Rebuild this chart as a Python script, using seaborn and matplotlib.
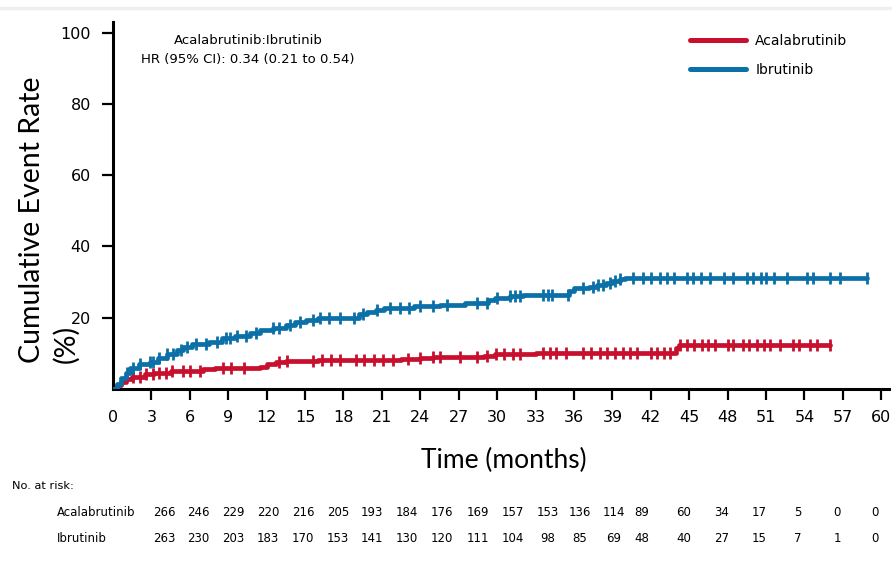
import matplotlib
matplotlib.use("Agg")

import matplotlib.pyplot as plt
import numpy as np
import pandas as pd
import seaborn as sns
from matplotlib.lines import Line2D


# Kaplan-Meier style cumulative event curves (step times in months, value in %)
ACALA_STEP_TIMES = [0, 0.3, 0.6, 1.0, 1.5, 2.5, 3.2, 4.5, 7.0, 8.0, 11.5, 12.0,
                    12.7, 13.5, 16.0, 22.5, 24.0, 25.0, 29.0, 29.8, 33.0, 44.0,
                    44.2]
ACALA_STEP_RATES = [0, 1.0, 2.0, 2.9, 3.4, 4.1, 4.5, 5.1, 5.5, 5.8, 6.3, 7.0,
                    7.5, 7.9, 8.1, 8.5, 8.8, 9.0, 9.4, 9.7, 10.1, 11.5, 12.4]
ACALA_CENSOR_TIMES = [1.6, 2.1, 2.6, 3.1, 3.6, 4.1, 4.6, 5.5, 6.0, 6.8, 8.6,
                      9.2, 10.2, 13.0, 13.6, 15.6, 16.3, 17.0, 17.7, 19.0, 19.6,
                      20.4, 21.1, 21.9, 23.0, 24.0, 25.0, 25.5, 27.1, 28.4,
                      29.2, 29.9, 30.5, 31.2, 31.8, 33.6, 34.1, 34.6, 35.4,
                      36.7, 37.3, 38.0, 38.6, 39.2, 39.8, 40.4, 40.9, 42.0,
                      42.5, 43.0, 43.5, 44.3, 44.8, 45.4, 46.0, 46.5, 47.0,
                      48.0, 48.4, 49.2, 49.7, 50.3, 50.8, 51.3, 52.1, 53.1,
                      53.6, 54.4, 55.0, 56.0]

IBRU_STEP_TIMES = [0, 0.3, 0.6, 1.0, 1.3, 2.0, 2.9, 3.5, 4.2, 5.0, 5.5, 6.2,
                   7.5, 8.5, 9.5, 10.7, 11.5, 12.5, 13.5, 14.2, 15.1, 16.0,
                   19.2, 19.8, 20.5, 21.2, 23.5, 25.5, 27.5, 29.3, 29.8, 31.0,
                   32.0, 35.6, 36.0, 37.2, 37.8, 38.5, 39.0, 39.6, 40.0]
IBRU_STEP_RATES = [0, 1.5, 3.0, 4.5, 6.0, 7.0, 7.6, 8.7, 9.8, 10.9, 11.8, 12.5,
                   13.3, 14.4, 15.0, 15.7, 16.5, 17.1, 18.0, 18.8, 19.4, 20.0,
                   21.0, 21.6, 22.3, 22.8, 23.2, 23.6, 24.2, 25.0, 25.6, 26.2,
                   26.4, 27.6, 28.3, 28.7, 29.2, 29.8, 30.3, 30.8, 31.1]
IBRU_CENSOR_TIMES = [1.1, 1.6, 2.1, 2.9, 3.1, 3.6, 4.2, 4.7, 5.3, 5.8, 6.5,
                     7.3, 8.1, 8.8, 9.1, 9.7, 10.4, 11.2, 12.5, 13.0, 13.8,
                     14.6, 15.6, 16.2, 16.9, 17.7, 18.8, 19.5, 20.6, 21.6,
                     22.4, 23.1, 24.0, 25.0, 26.1, 28.4, 29.2, 30.0, 31.0,
                     31.4, 31.8, 33.6, 34.0, 34.3, 35.5, 36.7, 37.5, 37.9,
                     38.3, 38.8, 39.2, 39.6, 40.6, 41.4, 42.0, 42.7, 43.3,
                     43.8, 44.8, 45.3, 45.9, 46.6, 47.7, 48.4, 49.5, 50.0,
                     50.6, 51.0, 51.6, 52.6, 54.2, 54.7, 56.0, 56.8, 58.9]

MONTH_TICKS = list(range(0, 61, 3))
RATE_TICKS = [20, 40, 60, 80, 100]

RISK_GROUPS = ["Acalabrutinib", "Ibrutinib"]
ACALA_AT_RISK = [266, 246, 229, 220, 216, 205, 193, 184, 176, 169, 157, 153,
                 136, 114, 89, 60, 34, 17, 5, 0, 0]
IBRU_AT_RISK = [263, 230, 203, 183, 170, 153, 141, 130, 120, 111, 104, 98,
                85, 69, 48, 40, 27, 15, 7, 1, 0]

HR_TEXT = "Acalabrutinib:Ibrutinib\nHR (95% CI): 0.34 (0.21 to 0.54)"

RED = "#C8102E"
BLUE = "#0B6FA8"

# pixel layout of the figure (892 x 569)
FIG_W, FIG_H = 892, 569
RISK_COLUMNS_PX = [164, 198, 233, 268, 303, 338, 372, 407, 442, 478, 513,
                   548, 580, 614, 642, 684, 722, 759, 798, 837, 875]


def fx(px):
    return px / FIG_W


def fy(py):
    return 1 - py / FIG_H


def build_curve(step_times, step_rates, censor_times, group):
    times = list(step_times) + [max(censor_times)]
    rates = list(step_rates) + [step_rates[-1]]
    curve = pd.DataFrame({"Time": times, "Rate": rates, "Group": group})

    index = np.searchsorted(step_times, censor_times, side="right") - 1
    censors = pd.DataFrame({
        "Time": censor_times,
        "Rate": np.asarray(step_rates)[index],
        "Group": group,
    })
    return curve, censors


def main() -> None:
    sns.set_theme(style="ticks")
    plt.rcParams["font.family"] = ["DejaVu Sans"]
    plt.rcParams["text.color"] = "black"

    fig = plt.figure(figsize=(FIG_W / 100, FIG_H / 100), dpi=100)
    ax = fig.add_axes([fx(113), fy(389), fx(889) - fx(113), fy(22) - fy(389)])

    curves = [
        build_curve(ACALA_STEP_TIMES, ACALA_STEP_RATES, ACALA_CENSOR_TIMES,
                    "Acalabrutinib") + (RED,),
        build_curve(IBRU_STEP_TIMES, IBRU_STEP_RATES, IBRU_CENSOR_TIMES,
                    "Ibrutinib") + (BLUE,),
    ]

    for curve, censors, color in curves:
        sns.lineplot(
            data=curve, x="Time", y="Rate", drawstyle="steps-post",
            color=color, linewidth=3.4, label=curve["Group"].iloc[0],
            ax=ax, zorder=3
        )
        sns.scatterplot(
            data=censors, x="Time", y="Rate", marker="|", s=85,
            linewidth=2.0, color=color, ax=ax, zorder=4, legend=False
        )

    ax.set_xlim(0, 60.6)
    ax.set_ylim(0, 103)
    ax.set_xticks(MONTH_TICKS)
    ax.set_yticks(RATE_TICKS)
    ax.set_xlabel("")
    ax.set_ylabel("")

    sns.despine(ax=ax)
    for side in ["left", "bottom"]:
        ax.spines[side].set_linewidth(2.2)
        ax.spines[side].set_color("black")
    ax.tick_params(axis="both", length=8, width=1.6, color="black",
                   labelsize=11.5, labelcolor="black")
    ax.tick_params(axis="x", pad=7)
    ax.tick_params(axis="y", pad=8)
    ax.xaxis.get_major_ticks()[0].tick1line.set_visible(False)

    legend = ax.legend(
        loc="upper left", bbox_to_anchor=(fx(690), fy(34)),
        bbox_transform=fig.transFigure, frameon=False, fontsize=10,
        handlelength=4.0, handletextpad=0.7, labelspacing=1.05,
        borderpad=0, borderaxespad=0
    )
    for line in legend.get_lines():
        line.set_linewidth(3.6)

    fig.text(fx(248), fy(50.5), HR_TEXT, ha="center", va="center",
             fontsize=9.5, linespacing=1.6)

    fig.text(fx(49), fy(220), "Cumulative Event Rate\n(%)", rotation=90,
             ha="center", va="center", multialignment="left",
             fontsize=20.5, family=["Lato", "DejaVu Sans"], linespacing=1.35)
    fig.text(fx(504), fy(460), "Time (months)", ha="center", va="center",
             fontsize=19, family=["Lato", "DejaVu Sans"])

    fig.text(fx(12), fy(486), "No. at risk:", ha="left", va="center",
             fontsize=8.2)
    risk_rows = [(RISK_GROUPS[0], ACALA_AT_RISK, 513),
                 (RISK_GROUPS[1], IBRU_AT_RISK, 539)]
    for name, counts, row_y in risk_rows:
        fig.text(fx(57), fy(row_y), name, ha="left", va="center",
                 fontsize=8.5)
        for column_x, count in zip(RISK_COLUMNS_PX, counts):
            fig.text(fx(column_x), fy(row_y), str(count), ha="center",
                     va="center", fontsize=8.5)

    fig.add_artist(Line2D([0, 1], [fy(7.5), fy(7.5)], color="#efefef",
                          linewidth=2.5, transform=fig.transFigure))

    fig.savefig("out.png", dpi=100)
    plt.close(fig)


if __name__ == "__main__":
    main()
